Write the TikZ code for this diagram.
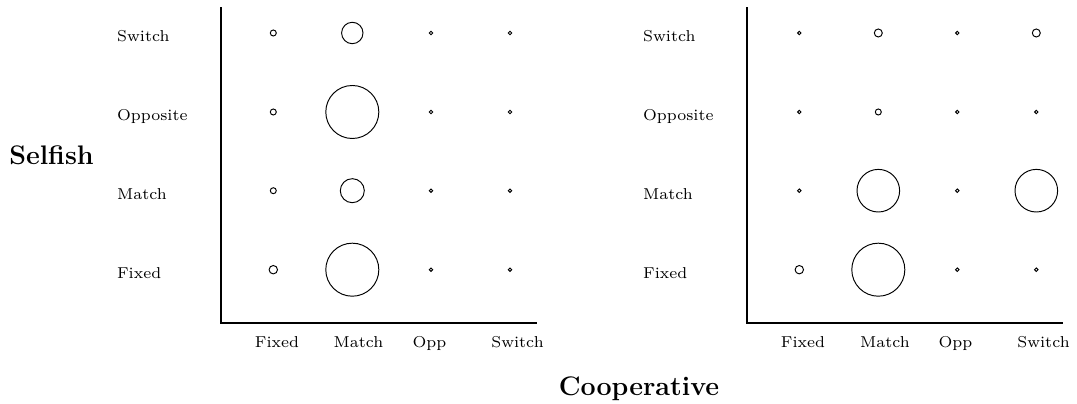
\documentclass[tikz,border=0pt]{standalone}
\usepackage{amsmath, amssymb}
\usepackage{tikz}

\tikzset{
	bub/.style={circle, draw=black, line width=0.45pt, inner sep=0pt, minimum size={#1*0.033cm}},
	rowlab/.style={anchor=base west, inner sep=0pt, font=\fontsize{7.4}{9}\selectfont},
	collab/.style={anchor=base, inner sep=0pt, font=\fontsize{7.4}{9}\selectfont},
	axis/.style={line width=1pt, black},
	bigtitle/.style={anchor=base, inner sep=0pt, font=\fontsize{12.6}{15}\selectfont\bfseries}
}

\begin{document}
\begin{tikzpicture}[x=0.0165cm, y=-0.0165cm]
	\useasboundingbox (0,0) rectangle (1077,404);

	\node[bigtitle] (selfish) at (51.5,164.5) {Selfish};
	\node[bigtitle] (coop) at (639,396) {Cooperative};

	\coordinate (la-top) at (220.7,7.3);
	\coordinate (la-org) at (220.7,322.7);
	\coordinate (la-end) at (536.7,322.7);
	\draw[axis] (la-top) -- (la-org) -- (la-end);

	\node[rowlab] (l-r1) at (116.7,42) {Switch};
	\node[rowlab] (l-r2) at (116.7,121) {Opposite};
	\node[rowlab] (l-r3) at (116.7,199.7) {Match};
	\node[rowlab] (l-r4) at (116.7,278.7) {Fixed};
	\node[collab] (l-c1) at (277,348) {Fixed};
	\node[collab] (l-c2) at (358.5,348) {Match};
	\node[collab] (l-c3) at (429.5,348) {Opp};
	\node[collab] (l-c4) at (517.5,348) {Switch};

	\node[bub=3] (l-11) at (273.3,33) {};
	\node[bub=10.7] (l-12) at (352.3,33) {};
	\node[bub=1.7] (l-13) at (431,33) {};
	\node[bub=1.7] (l-14) at (510,33) {};
	\node[bub=3] (l-21) at (273.3,112) {};
	\node[bub=26.5] (l-22) at (352.3,112) {};
	\node[bub=1.7] (l-23) at (431,112) {};
	\node[bub=1.7] (l-24) at (510,112) {};
	\node[bub=3] (l-31) at (273.3,190.7) {};
	\node[bub=12] (l-32) at (352.3,190.7) {};
	\node[bub=1.7] (l-33) at (431,190.7) {};
	\node[bub=1.7] (l-34) at (510,190.7) {};
	\node[bub=4.2] (l-41) at (273.3,269.7) {};
	\node[bub=26.5] (l-42) at (352.3,269.7) {};
	\node[bub=1.7] (l-43) at (431,269.7) {};
	\node[bub=1.7] (l-44) at (510,269.7) {};

	\coordinate (ra-top) at (746.7,7.3);
	\coordinate (ra-org) at (746.7,322.7);
	\coordinate (ra-end) at (1062.7,322.7);
	\draw[axis] (ra-top) -- (ra-org) -- (ra-end);

	\node[rowlab] (r-r1) at (642.7,42) {Switch};
	\node[rowlab] (r-r2) at (642.7,121) {Opposite};
	\node[rowlab] (r-r3) at (642.7,199.7) {Match};
	\node[rowlab] (r-r4) at (642.7,278.7) {Fixed};
	\node[collab] (r-c1) at (803,348) {Fixed};
	\node[collab] (r-c2) at (885,348) {Match};
	\node[collab] (r-c3) at (955.5,348) {Opp};
	\node[collab] (r-c4) at (1043.5,348) {Switch};

	\node[bub=1.7] (r-11) at (799.3,33) {};
	\node[bub=4] (r-12) at (878.3,33) {};
	\node[bub=1.7] (r-13) at (957.3,33) {};
	\node[bub=4] (r-14) at (1036.3,33) {};
	\node[bub=1.7] (r-21) at (799.3,112) {};
	\node[bub=3] (r-22) at (878.3,112) {};
	\node[bub=1.7] (r-23) at (957.3,112) {};
	\node[bub=1.7] (r-24) at (1036.3,112) {};
	\node[bub=1.7] (r-31) at (799.3,190.7) {};
	\node[bub=21.3] (r-32) at (878.3,190.7) {};
	\node[bub=1.7] (r-33) at (957.3,190.7) {};
	\node[bub=21.3] (r-34) at (1036.3,190.7) {};
	\node[bub=4.2] (r-41) at (799.3,269.7) {};
	\node[bub=26.5] (r-42) at (878.3,269.7) {};
	\node[bub=1.7] (r-43) at (957.3,269.7) {};
	\node[bub=1.7] (r-44) at (1036.3,269.7) {};
\end{tikzpicture}
\end{document}
